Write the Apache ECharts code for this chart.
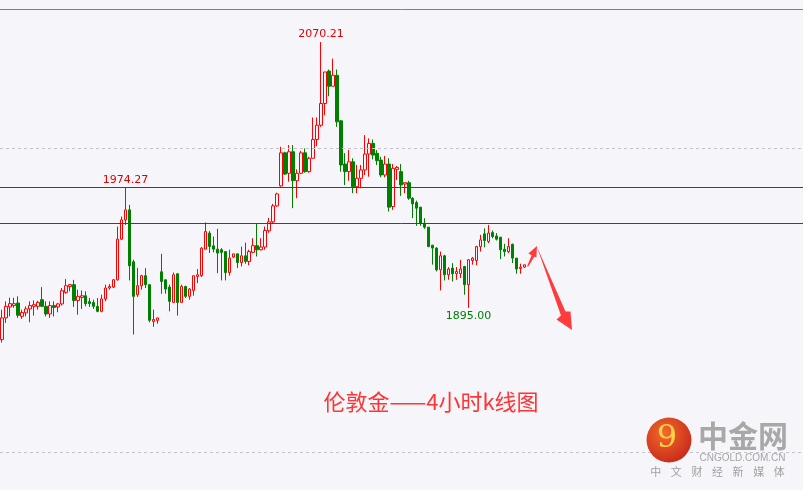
<!DOCTYPE html>
<html><head><meta charset="utf-8">
<script src="https://cdn.jsdelivr.net/npm/echarts@6/dist/echarts.min.js"></script>
<style>html,body{margin:0;padding:0;background:#f6f5fa}#c{width:803px;height:490px}</style>
</head><body><div id="c"></div>
<script>
// ---- data (London gold, 4-hour candles) ----
const open = [
1874.1,1888.4,1895.6,1896.5,1898.2,1889.4,1891.7,1894.3,1896.0,1896.0,
1900.4,1896.0,1891.0,1896.5,1895.6,1897.6,1905.2,1909.1,1910.3,1899.9,
1901.9,1903.0,1899.1,1898.6,1896.0,1892.7,1900.9,1908.1,1908.7,1913.5,
1940.3,1953.0,1959.6,1925.4,1903.7,1909.6,1916.2,1910.3,1886.1,1886.8,
1918.8,1913.5,1908.7,1898.6,1917.5,1898.6,1909.1,1902.6,1906.5,1915.7,
1916.2,1933.7,1944.3,1935.9,1933.7,1933.3,1932.1,1918.3,1928.5,1930.6,
1924.9,1929.3,1925.6,1931.6,1936.0,1933.3,1935.1,1945.8,1951.7,1962.2,
1975.4,1997.2,1983.7,1997.9,1978.8,1983.7,1997.2,1984.8,1993.6,2006.0,
2015.4,2029.7,2051.1,2041.1,2048.3,2018.3,1989.8,1984.8,1991.3,1974.9,
1980.4,1985.9,1996.4,2003.4,1996.9,1992.4,1982.6,1989.8,1961.8,1986.3,
1984.8,1976.6,1977.5,1967.3,1964.4,1961.4,1950.8,1948.2,1936.3,1934.4,
1920.1,1929.3,1916.8,1921.2,1917.5,1917.5,1922.3,1910.3,1926.2,1926.2,
1935.4,1943.8,1938.8,1944.6,1942.4,1941.6,1933.7,1932.1,1936.9,1927.8,
1920.9,1921.9];
const close = [
1888.4,1896.0,1897.8,1897.8,1890.1,1891.9,1894.3,1896.5,1897.1,1898.6,
1896.0,1891.0,1896.5,1895.3,1897.6,1906.3,1909.6,1910.3,1899.9,1902.6,
1903.0,1897.8,1897.8,1896.0,1892.7,1900.9,1908.1,1909.1,1913.5,1940.3,
1953.0,1959.6,1922.7,1902.6,1909.6,1916.2,1910.3,1886.8,1887.3,1888.4,
1912.4,1907.4,1899.3,1916.8,1898.6,1909.1,1902.6,1907.4,1916.2,1916.8,
1934.4,1945.3,1935.5,1933.7,1931.1,1931.6,1918.3,1927.8,1930.6,1924.9,
1929.3,1925.6,1932.1,1936.0,1933.3,1935.1,1946.0,1951.7,1962.2,1970.1,
1997.2,1983.2,1997.9,1978.8,1983.7,1997.2,1984.8,1993.6,2006.0,2015.4,
2029.7,2050.5,2041.1,2048.3,2017.6,1989.2,1984.8,1991.3,1974.9,1980.4,
1985.9,1996.4,2003.4,1995.7,1992.0,1982.6,1989.8,1961.4,1987.0,1987.6,
1976.0,1977.5,1967.3,1963.5,1960.7,1950.8,1948.2,1935.4,1934.4,1920.1,
1929.3,1916.8,1920.6,1917.5,1919.0,1920.6,1910.3,1926.7,1927.8,1935.4,
1939.8,1939.4,1944.3,1942.0,1940.3,1933.3,1932.1,1935.4,1927.8,1920.6,
1921.8,1923.4];
const low = [
1872.1,1885.1,1889.4,1895.1,1888.4,1887.7,1889.4,1885.5,1889.9,1893.8,
1895.6,1889.4,1888.4,1889.4,1892.1,1896.5,1904.3,1905.9,1895.6,1890.5,
1894.3,1896.0,1895.6,1894.3,1892.1,1892.1,1899.3,1907.0,1908.1,1913.0,
1939.8,1949.7,1913.1,1877.4,1902.2,1907.0,1908.1,1885.5,1882.5,1884.6,
1904.3,1904.3,1892.7,1898.2,1889.9,1898.2,1901.5,1900.4,1903.0,1911.3,
1915.3,1933.7,1931.2,1931.6,1917.9,1913.1,1913.1,1916.2,1927.8,1921.2,
1922.3,1924.1,1923.1,1931.2,1928.9,1932.9,1933.3,1944.5,1950.4,1961.7,
1974.9,1982.6,1978.2,1960.7,1967.3,1983.2,1984.1,1984.1,1993.6,2001.6,
2014.3,2022.0,2034.5,2041.1,2014.3,1984.8,1976.0,1978.8,1970.6,1970.6,
1973.9,1982.6,1981.5,1992.9,1989.2,1981.1,1981.1,1958.5,1959.6,1979.3,
1968.8,1970.6,1966.2,1954.1,1949.1,1949.1,1947.1,1935.0,1923.5,1919.0,
1906.5,1913.1,1913.5,1912.4,1913.5,1914.7,1903.7,1895.0,1923.5,1923.1,
1932.1,1934.9,1937.7,1940.9,1939.4,1927.2,1928.9,1931.1,1924.5,1917.5,
1917.5,1921.2];
const high = [
1893.8,1899.3,1901.7,1901.7,1902.6,1893.8,1896.0,1899.3,1899.9,1899.7,
1908.7,1899.3,1899.3,1899.3,1898.2,1908.1,1914.0,1910.7,1913.5,1907.0,
1906.5,1905.9,1901.5,1900.4,1901.5,1903.7,1910.3,1910.7,1914.0,1948.6,
1955.2,1974.27,1962.9,1926.7,1921.4,1916.8,1921.2,1910.3,1893.8,1888.4,
1930.6,1913.5,1910.3,1918.3,1917.5,1910.3,1909.6,1908.1,1916.2,1920.6,
1935.0,1951.3,1945.7,1942.0,1947.1,1934.4,1932.1,1933.3,1930.6,1930.6,
1935.4,1938.0,1933.3,1940.9,1950.8,1940.9,1948.6,1954.3,1963.5,1970.9,
2001.2,1997.9,2002.3,2002.3,1986.3,1998.5,2000.1,1994.6,2020.5,2020.5,
2070.21,2050.5,2052.1,2059.3,2052.1,2018.7,1997.0,1999.0,1993.6,1989.2,
1989.2,2008.9,2006.7,2006.0,1999.0,1994.6,1995.1,1993.6,1989.8,1988.5,
1989.8,1977.5,1978.8,1967.9,1965.7,1961.4,1954.1,1948.2,1936.5,1935.0,
1932.1,1930.0,1921.9,1924.5,1921.9,1926.7,1922.7,1927.2,1928.5,1935.9,
1943.1,1947.4,1949.7,1946.0,1944.3,1941.6,1937.2,1940.9,1937.4,1927.8,
1924.1,1923.4];
const categories = open.map((_, i) => 'K' + (i + 1));
const resistanceLines = [1974.27, 1951.0];
const gridLevels = [2000, 1800];
const topLevel = 2092;
const highIdx = 80, lowIdx = 117, prevHighIdx = 31;

const ohlc = open.map((o, i) => [o, close[i], low[i], high[i]]);

const chart = echarts.init(document.getElementById('c'), null, {renderer: 'canvas'});
const BG = '#f6f5fa';
const yCommon = {type: 'value', min: 1800, max: 2092, show: false, splitLine: {show: false}, scale: true};

const lineData = [{yAxis: topLevel, lineStyle: {color: '#808080', width: 1, type: 'solid'}}]
  .concat(gridLevels.map(v => ({yAxis: v, lineStyle: {color: '#c4c4c8', width: 1, type: [3, 3]}})))
  .concat(resistanceLines.map(v => ({yAxis: v, lineStyle: {color: '#e00000', width: 1, type: 'solid'}})));

const labelFont = {fontFamily: 'DejaVu Sans', fontSize: 11};

chart.setOption({
  backgroundColor: BG,
  animation: false,
  grid: [
    {left: 0, right: 0, top: 9, height: 443},
    {left: 0, width: 526.4, top: 9, height: 443}
  ],
  xAxis: [
    {type: 'value', gridIndex: 0, min: 0, max: 1, show: false},
    {type: 'category', gridIndex: 1, data: categories, show: false, boundaryGap: true}
  ],
  yAxis: [
    Object.assign({gridIndex: 0}, yCommon),
    Object.assign({gridIndex: 1}, yCommon)
  ],
  series: [
    {
      type: 'line', xAxisIndex: 0, yAxisIndex: 0, data: [], silent: true,
      markLine: {silent: true, symbol: ['none', 'none'], label: {show: false}, data: lineData}
    },
    {
      type: 'candlestick', xAxisIndex: 1, yAxisIndex: 1, data: ohlc,
      barWidth: 3,
      itemStyle: {color: BG, color0: '#008000', borderColor: '#ff0000', borderColor0: '#008000', borderWidth: 1},
      markPoint: {
        symbol: 'circle', symbolSize: 0, silent: true,
        data: [
          {coord: [categories[highIdx], high[highIdx]], value: high[highIdx].toFixed(2),
           label: Object.assign({show: true, position: 'top', distance: 2, color: '#e00000', formatter: '{c}'}, labelFont)},
          {coord: [categories[prevHighIdx], high[prevHighIdx]], value: high[prevHighIdx].toFixed(2),
           label: Object.assign({show: true, position: 'top', distance: 2, color: '#e00000', formatter: '{c}'}, labelFont)},
          {coord: [categories[lowIdx], low[lowIdx]], value: low[lowIdx].toFixed(2),
           label: Object.assign({show: true, position: 'bottom', distance: 3, color: '#008000', formatter: '{c}'}, labelFont)}
        ]
      }
    }
  ],
  graphic: [
    {type: 'polygon', silent: true, z: 100,
     shape: {points: [[527,266.5],[528.6,266.2],[534.2,256.8],[536.4,257.2],[537,246],[528.3,253.5],[531.6,255.3]]},
     style: {fill: '#ff3c3c'}},
    {type: 'polygon', silent: true, z: 100,
     shape: {points: [[536.6,246],[565.5,311.5],[570.5,311.5],[572,330],[556.5,319.5],[561,315.5]]},
     style: {fill: '#ff3c3c'}},
    {type: 'text', silent: true, z: 100, x: 431, y: 402,
     style: {text: '伦敦金——4小时k线图', fill: '#ff3535', fontSize: 22, fontFamily: '"Noto Sans CJK SC"',
       align: 'center', verticalAlign: 'middle', textAlign: 'center', textVerticalAlign: 'middle'}},
    {type: 'circle', silent: true, z: 100, shape: {cx: 669, cy: 440, r: 22.5},
     style: {fill: new echarts.graphic.RadialGradient(0.4, 0.35, 0.75, [
       {offset: 0, color: '#f26a2a'}, {offset: 1, color: '#c4241a'}])}},
    {type: 'text', silent: true, z: 101, x: 667, y: 439,
     style: {text: '9', fill: '#ffd24a', fontSize: 32, fontFamily: '"DejaVu Serif"',
       align: 'center', verticalAlign: 'middle', textAlign: 'center', textVerticalAlign: 'middle'}},
    {type: 'text', silent: true, z: 100, x: 743, y: 436,
     style: {text: '中金网', fill: '#a8a8a8', fontSize: 30, fontWeight: 'bold', fontFamily: '"Noto Sans CJK SC"',
       align: 'center', verticalAlign: 'middle', textAlign: 'center', textVerticalAlign: 'middle'}},
    {type: 'text', silent: true, z: 100, x: 742.5, y: 458.5,
     style: {text: 'CNGOLD.COM.CN', fill: '#a5a5a5', fontSize: 10, fontFamily: '"Liberation Sans"',
       align: 'center', verticalAlign: 'middle', textAlign: 'center', textVerticalAlign: 'middle'}}
  ].concat('中文财经新媒体'.split('').map((ch, i) => ({
    type: 'text', silent: true, z: 100, x: 655.7 + i * 20.6, y: 472,
    style: {text: ch, fill: '#a0a0a0', fontSize: 11, fontFamily: '"Noto Sans CJK SC"',
      align: 'center', verticalAlign: 'middle', textAlign: 'center', textVerticalAlign: 'middle'}
  })))
});
</script>
</body></html>
